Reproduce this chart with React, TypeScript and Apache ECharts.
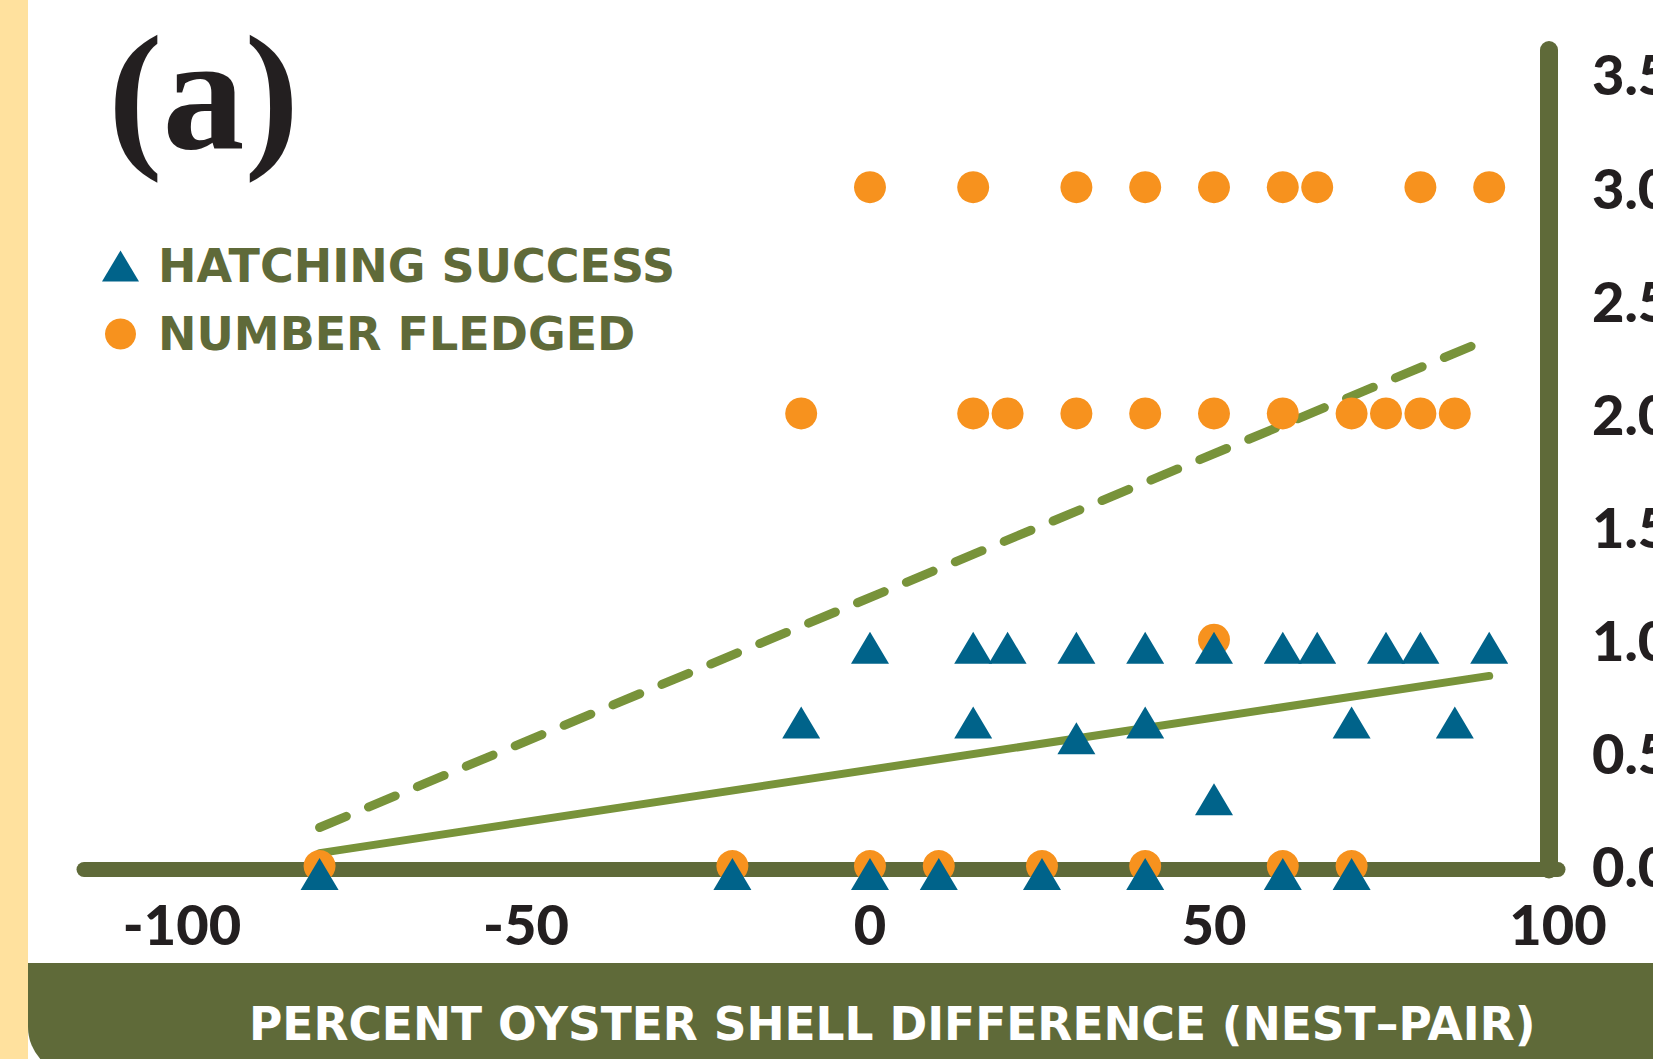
import React, { useEffect, useRef } from "react";
import * as echarts from "echarts";

// ---- data ----
const hatchPctDiff = [0, 15, 20, 30, 40, 50, 60, 65, 75, 80, 90, -10, 15, 40, 70, 85, 30, 50, -80, -20, 0, 10, 25, 40, 60, 70];
const hatchingSuccess = [1, 1, 1, 1, 1, 1, 1, 1, 1, 1, 1, 0.67, 0.67, 0.67, 0.67, 0.67, 0.6, 0.33, 0, 0, 0, 0, 0, 0, 0, 0];

const fledgedPctDiff = [0, 15, 30, 40, 50, 60, 65, 80, 90, -10, 15, 20, 30, 40, 50, 60, 70, 75, 80, 85, 50, -80, -20, 0, 10, 25, 40, 60, 70];
const numberFledged = [3, 3, 3, 3, 3, 3, 3, 3, 3, 2, 2, 2, 2, 2, 2, 2, 2, 2, 2, 2, 1, 0, 0, 0, 0, 0, 0, 0, 0];

const trendX = [-80, 90];
const hatchTrend = [0.057, 0.84];
const fledgedTrend = [0.17, 2.33];

const xTicks = [-100, -50, 0, 50, 100];
const yTicks = [0, 0.5, 1, 1.5, 2, 2.5, 3, 3.5];
const X_MIN = -114.24;
const X_MAX = 100;
const Y_MIN = -0.0155;
const Y_MAX = 3.606;

const OLIVE = "#5F6A39";
const GREEN = "#78933A";
const ORANGE = "#F7921E";
const BLUE = "#00638A";
const INK = "#231F20";
const BEIGE = "#FFE19E";
const FONT = "Lato";
const WIDE = "'DejaVu Sans'";

function pairs(xs: number[], ys: number[]) {
  return xs.map((x, i) => [x, ys[i]]);
}

export default function App() {
  const ref = useRef<HTMLDivElement>(null);
  useEffect(() => {
    if (!ref.current) return;
    const chart = echarts.init(ref.current, null, { renderer: "svg" });
    const option: any = {
      animation: false,
      backgroundColor: "#ffffff",
      grid: { left: 84, right: 95, top: 50, bottom: 189.5, outerBoundsMode: "none", containLabel: false },
      legend: {
        data: ["HATCHING SUCCESS", "NUMBER FLEDGED"],
        orient: "vertical",
        left: 97,
        top: 236,
        itemWidth: 37,
        itemHeight: 31,
        itemGap: 18,
        selectedMode: false,
        textStyle: {
          fontFamily: WIDE,
          fontWeight: "bold",
          fontSize: 46,
          lineHeight: 50,
          color: OLIVE,
          padding: [0, 0, 0, 14],
        },
      },
      xAxis: {
        type: "value",
        min: X_MIN,
        max: X_MAX,
        position: "bottom",
        axisLine: { show: true, onZero: false, lineStyle: { color: OLIVE, width: 15 } },
        axisTick: { show: false },
        splitLine: { show: false },
        axisLabel: {
          customValues: xTicks,
          margin: 26,
          fontFamily: FONT,
          fontWeight: 900,
          fontSize: 56,
          color: INK,
          formatter: (v: number) => String(v),
        },
      },
      yAxis: {
        type: "value",
        min: Y_MIN,
        max: Y_MAX,
        position: "right",
        offset: -9,
        axisLine: { show: true, onZero: false, lineStyle: { color: OLIVE, width: 18 } },
        axisTick: { show: false },
        splitLine: { show: false },
        axisLabel: {
          customValues: yTicks,
          margin: 43,
          fontFamily: FONT,
          fontWeight: 900,
          fontSize: 56,
          color: INK,
          formatter: (v: number) => v.toFixed(1),
        },
      },
      graphic: [
        { type: "rect", z: 0, shape: { x: 0, y: 0, width: 28, height: 1059 }, style: { fill: BEIGE } },
        { type: "rect", z: 0, shape: { x: 28, y: 963, width: 1700, height: 112, r: [0, 0, 0, 48] }, style: { fill: OLIVE } },
        {
          type: "text",
          z: 10,
          x: 249,
          y: 1024,
          style: {
            text: "PERCENT OYSTER SHELL DIFFERENCE (NEST–PAIR)",
            fill: "#ffffff",
            font: `bold 45.5px ${WIDE}`,
            verticalAlign: "middle",
            align: "left",
          },
        },
        {
          type: "text",
          z: 10,
          x: 108,
          y: 92,
          style: {
            text: "(a)",
            fill: INK,
            font: "bold 164px 'Liberation Serif'",
            verticalAlign: "middle",
            align: "left",
          },
        },
      ],
      series: [
        {
          name: "fledgedTrend",
          type: "line",
          data: pairs(trendX, fledgedTrend),
          showSymbol: false,
          silent: true,
          z: 2,
          lineStyle: { color: GREEN, width: 9, type: [29, 24], cap: "round" },
        },
        {
          name: "hatchTrend",
          type: "line",
          data: pairs(trendX, hatchTrend),
          showSymbol: false,
          silent: true,
          z: 2,
          lineStyle: { color: GREEN, width: 8, cap: "round" },
        },
        {
          name: "NUMBER FLEDGED",
          type: "scatter",
          symbol: "circle",
          symbolSize: 32,
          z: 3,
          itemStyle: { color: ORANGE, opacity: 1 },
          data: pairs(fledgedPctDiff, numberFledged),
        },
        {
          name: "HATCHING SUCCESS",
          type: "scatter",
          symbol: "triangle",
          symbolSize: [38, 32],
          symbolOffset: [0, 8],
          z: 4,
          itemStyle: { color: BLUE, opacity: 1 },
          data: pairs(hatchPctDiff, hatchingSuccess),
        },
      ],
    };
    chart.setOption(option);
    return () => chart.dispose();
  }, []);
  return (
    <div
      ref={ref}
      style={{ position: "absolute", left: 0, top: 0, width: 1653, height: 1059, background: "#fff" }}
    />
  );
}
